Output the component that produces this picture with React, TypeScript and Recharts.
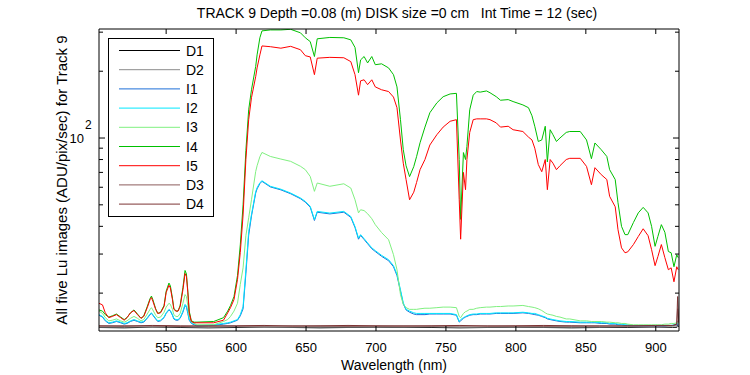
import { LineChart, Line, XAxis, YAxis, Legend } from "recharts"

// wavelength grid (nm) for the five Lu image series
const wavelength = [
  502, 504.5, 506.5, 509, 511.5, 514.5, 517.5, 520, 522, 524.5, 527, 529.5, 532, 534, 536.5, 538.5, 539.5, 540.5, 542.5, 544,
  546, 548.5, 550, 552, 553, 554.5, 555.5, 557, 558.5, 560, 562, 563.5, 564.5, 565.5, 566.5, 568, 570, 572, 584, 591,
  594, 596, 598.5, 601, 603, 605, 607, 609, 611, 614, 615, 617, 618.5, 624.5, 632, 639, 646, 649.5, 653, 656,
  658, 667, 677, 682, 685, 687.5, 689, 691.5, 694, 697, 699.5, 704, 709, 712.5, 715, 717.5, 719.5, 721.5, 724, 727,
  729, 731.5, 735, 738.5, 743.5, 748, 753, 757.5, 759.5, 760.5, 762.5, 764, 765, 767, 769.5, 772, 774.5, 779, 781.5, 786,
  789, 794.5, 798, 805, 809, 811.5, 813.5, 816, 818.5, 821, 822.5, 824.5, 826.5, 829, 831.5, 836, 838.5, 846, 850.5, 854,
  856.5, 861, 865, 867, 871, 873, 875.5, 878, 880, 884, 887.5, 891, 894.5, 897, 899.5, 901.5, 904, 906.5, 909, 911,
  913, 915, 916,
]

const i1 = [
  15.9, 15.6, 15.0, 14.6, 14.7, 14.9, 14.7, 14.5, 14.6, 14.9, 15.1, 14.9, 14.7, 14.8, 15.4, 16.0, 16.2, 15.9, 15.3, 14.9,
  15.0, 15.5, 16.2, 16.8, 16.6, 15.9, 15.3, 15.1, 15.1, 15.4, 16.4, 17.6, 17.3, 16.2, 15.1, 14.6, 14.4, 14.2, 14.3, 14.5,
  14.6, 14.7, 14.9, 15.1, 15.8, 17.0, 24.5, 36.5, 44.5, 56.5, 59.0, 62.3, 63.8, 60.2, 58.4, 56.1, 53.3, 51.4, 48.8, 42.5,
  46.3, 45.5, 46.3, 43.9, 39.5, 35.0, 36.4, 34.9, 33.4, 31.7, 30.8, 29.3, 28.0, 26.3, 24.0, 20.4, 17.9, 16.8, 16.4, 16.1,
  16.0, 16.0, 16.0, 16.1, 16.1, 16.1, 16.1, 15.9, 14.8, 15.0, 15.4, 15.6, 15.7, 15.9, 16.0, 16.0, 16.1, 16.1, 16.1, 16.2,
  16.2, 16.2, 16.2, 16.3, 16.2, 16.1, 16.0, 15.9, 15.7, 15.5, 15.3, 15.2, 15.1, 15.0, 14.9, 14.8, 14.8, 14.7, 14.7, 14.7,
  14.7, 14.6, 14.6, 14.5, 14.5, 14.4, 14.4, 14.3, 14.3, 14.2, 14.2, 14.2, 14.2, 14.2, 14.2, 14.2, 14.2, 14.2, 14.3, 14.3,
  14.3, 14.4, 14.4,
]

const i2 = [
  16.0, 15.7, 15.1, 14.7, 14.8, 15.0, 14.8, 14.6, 14.7, 15.0, 15.2, 15.0, 14.8, 14.9, 15.5, 16.1, 16.3, 16.0, 15.4, 15.0,
  15.1, 15.6, 16.3, 16.9, 16.7, 16.0, 15.4, 15.2, 15.2, 15.5, 16.6, 17.8, 17.5, 16.4, 15.2, 14.7, 14.5, 14.3, 14.4, 14.6,
  14.7, 14.8, 15.0, 15.2, 16.0, 17.4, 25.5, 37.9, 45.2, 57.3, 59.7, 62.9, 64.2, 60.6, 58.8, 56.5, 53.7, 51.8, 49.2, 42.9,
  46.7, 45.9, 46.7, 44.3, 39.9, 35.4, 36.7, 35.2, 33.7, 32.0, 31.1, 29.6, 28.3, 26.6, 24.3, 20.7, 18.1, 16.9, 16.6, 16.3,
  16.2, 16.2, 16.2, 16.2, 16.2, 16.2, 16.2, 16.0, 14.9, 15.2, 15.5, 15.7, 15.8, 16.0, 16.1, 16.1, 16.2, 16.2, 16.2, 16.3,
  16.3, 16.3, 16.3, 16.4, 16.3, 16.2, 16.2, 16.0, 15.8, 15.6, 15.4, 15.3, 15.2, 15.1, 15.0, 14.9, 14.9, 14.8, 14.8, 14.8,
  14.8, 14.7, 14.7, 14.6, 14.6, 14.5, 14.5, 14.4, 14.4, 14.3, 14.3, 14.3, 14.3, 14.3, 14.3, 14.3, 14.3, 14.3, 14.3, 14.3,
  14.4, 14.6, 14.6,
]

const i3 = [
  16.6, 16.2, 15.5, 15.0, 15.1, 15.3, 15.0, 14.8, 15.0, 15.4, 15.7, 15.4, 15.0, 15.2, 16.1, 16.9, 17.2, 16.8, 15.9, 15.5,
  15.6, 16.4, 17.3, 18.0, 17.8, 16.9, 16.0, 15.7, 15.7, 16.2, 18.0, 19.7, 19.3, 17.6, 15.8, 14.9, 14.6, 14.4, 14.4, 14.9,
  15.2, 15.7, 16.6, 18.0, 21.9, 26.0, 36.3, 43.7, 52.7, 70.6, 75.0, 82.4, 86.1, 82.6, 80.4, 78.5, 74.6, 72.0, 67.1, 57.5,
  62.7, 60.6, 62.2, 59.5, 52.7, 46.0, 47.5, 47.1, 45.6, 43.3, 40.7, 37.5, 34.8, 29.8, 25.5, 19.7, 17.8, 17.2, 16.9, 16.9,
  16.9, 17.0, 17.1, 17.1, 17.2, 17.3, 17.3, 17.2, 15.7, 15.5, 16.2, 16.5, 16.6, 16.9, 16.9, 17.1, 17.2, 17.3, 17.3, 17.4,
  17.4, 17.5, 17.5, 17.6, 17.4, 17.3, 17.2, 17.0, 16.7, 16.3, 16.1, 16.0, 15.9, 15.7, 15.6, 15.3, 15.3, 15.0, 15.0, 14.9,
  14.9, 14.9, 14.8, 14.8, 14.7, 14.7, 14.6, 14.6, 14.5, 14.4, 14.4, 14.4, 14.4, 14.4, 14.4, 14.4, 14.4, 14.5, 14.5, 14.6,
  14.6, 14.7, 14.7,
]

const i4 = [
  16.8, 16.6, 16.0, 15.6, 15.8, 16.1, 15.6, 15.2, 15.5, 16.3, 16.8, 16.1, 15.4, 15.8, 17.4, 18.9, 19.4, 18.7, 17.0, 16.2,
  16.4, 17.6, 20.4, 22.2, 21.6, 19.0, 17.1, 16.6, 16.6, 17.6, 21.2, 25.3, 24.4, 20.4, 16.6, 15.0, 14.8, 14.8, 14.9, 15.5,
  16.6, 17.6, 19.3, 24.0, 33.0, 50.0, 88.0, 134, 165, 210, 237, 283, 304, 307, 307, 309, 298, 283, 272, 233,
  280, 284, 283, 277, 256, 197, 225, 233, 218, 233, 214, 216, 207, 193, 170, 121, 88.6, 75, 67, 74.3,
  82.4, 95.2, 112, 130, 144, 153.5, 158, 159, 80, 43, 86, 80, 91.6, 134, 156, 162, 161, 163, 160, 153.5,
  148, 149, 146, 141, 137, 126, 113, 96.5, 98, 113, 78, 109, 103.5, 96.5, 100, 106, 107, 107, 98, 80.7,
  95, 88.6, 82.6, 72, 65, 51.1, 40, 36.7, 36.7, 41.6, 46, 48.7, 46, 40, 32.5, 36, 40.7, 37.6, 30.8, 30.4,
  26.3, 29.8, 28.9,
]

const i5 = [
  18.0, 17.7, 16.3, 15.5, 15.7, 16.0, 15.5, 15.1, 15.5, 16.3, 16.7, 16.0, 15.4, 15.7, 17.2, 18.7, 19.1, 18.4, 16.9, 16.2,
  16.3, 17.4, 20.1, 21.7, 21.1, 18.7, 16.9, 16.6, 16.6, 17.4, 20.7, 24.5, 23.8, 20.1, 16.3, 14.9, 14.7, 14.7, 14.7, 15.1,
  16.3, 17.2, 18.7, 23.0, 30.5, 45.0, 80.0, 121, 152, 189, 207, 237, 260, 258, 254, 259, 250, 235, 232, 193,
  229, 231, 230, 221, 193, 156, 181, 183, 174, 183, 170, 165, 162, 153, 137, 98, 77, 65, 52.7, 57,
  63, 72, 80, 93, 103.5, 112, 119, 121, 52.7, 35, 70, 58.5, 80, 106, 121, 122, 122, 122, 121, 117,
  112, 113, 109, 107, 101, 98, 90, 76, 70.5, 80, 58.5, 80, 77, 72, 75, 80, 81, 81, 74.5, 61.6,
  73.5, 68.4, 65, 54.6, 49, 38.6, 32, 30.4, 30.7, 33.1, 36, 39, 36.3, 31.4, 26.6, 29.2, 33.1, 28.9, 25.5, 26,
  22.5, 26.3, 25.5,
]

// dark frames sit on the floor of the plot
const darkWavelength = [502, 520, 540, 560, 580, 600, 620, 640, 660, 680, 700, 720, 740, 760, 780, 800, 820, 840, 860, 880, 900, 912, 915, 915.6, 916.4]
const d1 = [14.0, 13.95, 14.05, 14.0, 13.95, 14.0, 14.05, 14.0, 13.95, 14.0, 14.05, 14.0, 14.0, 13.95, 14.0, 14.05, 14.0, 13.95, 14.0, 14.0, 14.05, 14.0, 14.0, 14.4, 14.1]
const d2 = [14.05, 14.1, 14.05, 14.1, 14.05, 14.1, 14.05, 14.05, 14.1, 14.05, 14.1, 14.05, 14.1, 14.05, 14.05, 14.1, 14.05, 14.1, 14.05, 14.1, 14.05, 14.1, 14.1, 15.0, 14.2]
const d3 = [14.2, 14.25, 14.2, 14.15, 14.25, 14.2, 14.2, 14.25, 14.2, 14.15, 14.2, 14.25, 14.2, 14.2, 14.25, 14.2, 14.15, 14.2, 14.25, 14.2, 14.2, 14.25, 14.4, 17.0, 14.6]
const d4 = [14.25, 14.2, 14.3, 14.25, 14.2, 14.25, 14.3, 14.2, 14.25, 14.3, 14.25, 14.2, 14.25, 14.3, 14.2, 14.25, 14.3, 14.25, 14.2, 14.25, 14.3, 14.3, 14.5, 19.3, 14.8]

const seriesOrder = ["D1", "D2", "I1", "I2", "I3", "I4", "I5", "D3", "D4"]
const xTicks = [550, 600, 650, 700, 750, 800, 850, 900]
const yTicks = [20, 30, 40, 50, 60, 70, 80, 90, 100, 200, 300]

const rows = wavelength.map((w, k) => ({ w, I1: i1[k], I2: i2[k], I3: i3[k], I4: i4[k], I5: i5[k] }))
const darkRows = darkWavelength.map((w, k) => ({ w, D1: d1[k], D2: d2[k], D3: d3[k], D4: d4[k] }))

const FONT = "'Liberation Sans', Arial, Helvetica, sans-serif"
const X_DOMAIN: [number, number] = [502, 916.6]
const Y_DOMAIN: [number, number] = [13.5, 310]

function BottomTick({ x, y, payload }: any) {
  return (
    <g>
      <line x1={x} x2={x} y1={y} y2={y - 5} stroke="#000" />
      <text x={x} y={y + 21} textAnchor="middle" fontSize={13} fontFamily={FONT} fill="#000">
        {payload.value}
      </text>
    </g>
  )
}

function TopTick({ x, y }: any) {
  return <line x1={x} x2={x} y1={y} y2={y + 5} stroke="#000" />
}

function LeftTick({ x, y, payload }: any) {
  const major = payload.value === 100
  return (
    <g>
      <line x1={x} x2={x + (major ? 6 : 4)} y1={y} y2={y} stroke="#000" />
      {major && (
        <text fontFamily={FONT} fill="#000">
          <tspan x={x - 15} y={y + 5} fontSize={13} textAnchor="end">10</tspan>
          <tspan x={x - 14} y={y - 9} fontSize={12}>2</tspan>
        </text>
      )}
    </g>
  )
}

function RightTick({ x, y, payload }: any) {
  const major = payload.value === 100
  return <line x1={x} x2={x - (major ? 6 : 4)} y1={y} y2={y} stroke="#000" />
}

function LegendBox({ payload }: any) {
  const items = [...(payload ?? [])].sort(
    (a: any, b: any) => seriesOrder.indexOf(a.value) - seriesOrder.indexOf(b.value),
  )
  return (
    <svg width={107} height={180} style={{ display: "block" }}>
      <rect x={0.5} y={0.5} width={105} height={178} fill="#fff" stroke="#000" />
      {items.map((it: any, k: number) => {
        const y = 12.5 + k * 19.2
        return (
          <g key={it.value}>
            <line x1={11} x2={72} y1={y} y2={y} stroke={it.color} />
            <text x={78} y={y + 5} fontSize={14} fontFamily={FONT} fill="#000">
              {it.value}
            </text>
          </g>
        )
      })}
    </svg>
  )
}

export default function App() {
  return (
    <div style={{ position: "absolute", left: 0, top: 0, width: 750, height: 375, background: "#fff" }}>
      <LineChart width={750} height={375} data={rows} margin={{ top: 28, right: 70, bottom: 14, left: 59 }}>
        <XAxis
          dataKey="w"
          type="number"
          domain={X_DOMAIN}
          allowDataOverflow
          ticks={xTicks}
          interval={0}
          height={30}
          tickSize={0}
          tickMargin={0}
          tickLine={false}
          axisLine={{ stroke: "#000" }}
          tick={<BottomTick />}
        />
        <XAxis
          xAxisId="top"
          orientation="top"
          dataKey="w"
          type="number"
          domain={X_DOMAIN}
          allowDataOverflow
          ticks={xTicks}
          interval={0}
          height={1}
          tickSize={0}
          tickMargin={0}
          tickLine={false}
          axisLine={{ stroke: "#000" }}
          tick={<TopTick />}
        />
        <YAxis
          scale="log"
          type="number"
          domain={Y_DOMAIN}
          allowDataOverflow
          ticks={yTicks}
          interval={0}
          width={40}
          tickSize={0}
          tickMargin={0}
          tickLine={false}
          axisLine={{ stroke: "#000" }}
          tick={<LeftTick />}
        />
        <YAxis
          yAxisId="right"
          orientation="right"
          scale="log"
          type="number"
          domain={Y_DOMAIN}
          allowDataOverflow
          ticks={yTicks}
          interval={0}
          width={1}
          tickSize={0}
          tickMargin={0}
          tickLine={false}
          axisLine={{ stroke: "#000" }}
          tick={<RightTick />}
        />
        <Legend
          layout="vertical"
          align="center"
          verticalAlign="middle"
          wrapperStyle={{ left: 108, top: 38, width: 107, height: 180 }}
          content={<LegendBox />}
        />
        <Line data={darkRows} dataKey="D1" name="D1" stroke="#000000" strokeWidth={1} dot={false} activeDot={false} isAnimationActive={false} />
        <Line data={darkRows} dataKey="D2" name="D2" stroke="#8c8c8c" strokeWidth={1} dot={false} activeDot={false} isAnimationActive={false} />
        <Line dataKey="I1" name="I1" stroke="#1c6fd8" strokeWidth={1} dot={false} activeDot={false} isAnimationActive={false} />
        <Line dataKey="I2" name="I2" stroke="#00e8ff" strokeWidth={1} dot={false} activeDot={false} isAnimationActive={false} />
        <Line dataKey="I3" name="I3" stroke="#80f080" strokeWidth={1} dot={false} activeDot={false} isAnimationActive={false} />
        <Line dataKey="I4" name="I4" stroke="#00c000" strokeWidth={1} dot={false} activeDot={false} isAnimationActive={false} />
        <Line dataKey="I5" name="I5" stroke="#ff0000" strokeWidth={1} dot={false} activeDot={false} isAnimationActive={false} />
        <Line data={darkRows} dataKey="D3" name="D3" stroke="#8c5c5c" strokeWidth={1} dot={false} activeDot={false} isAnimationActive={false} />
        <Line data={darkRows} dataKey="D4" name="D4" stroke="#7c3434" strokeWidth={1} dot={false} activeDot={false} isAnimationActive={false} />
      </LineChart>
      <svg width={750} height={375} style={{ position: "absolute", left: 0, top: 0, pointerEvents: "none" }}>
        <text x={397} y={18} textAnchor="middle" fontSize={14} fontFamily={FONT} fill="#000" style={{ whiteSpace: "pre" }}>
          {"TRACK 9 Depth =0.08 (m) DISK size =0 cm   Int Time = 12 (sec)"}
        </text>
        <text x={394} y={370} textAnchor="middle" fontSize={14} fontFamily={FONT} fill="#000">
          Wavelength (nm)
        </text>
        <text
          transform="translate(67 180) rotate(-90)"
          textAnchor="middle"
          fontSize={15}
          fontFamily={FONT}
          fill="#000"
        >
          All five Lu images (ADU/pix/sec) for Track 9
        </text>
      </svg>
    </div>
  )
}
